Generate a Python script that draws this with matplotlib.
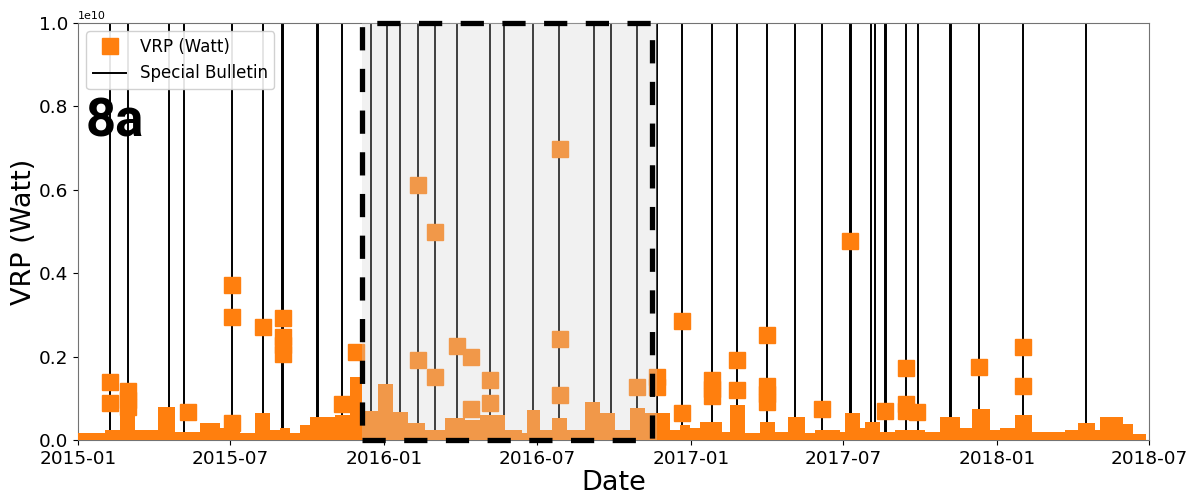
import matplotlib
matplotlib.use("Agg")
import matplotlib.pyplot as plt
import matplotlib.dates as mdates
from matplotlib.lines import Line2D
from matplotlib.patches import Rectangle
import pandas as pd

# ---------------- data (VRP in units of 1e10 W) ----------------
# background activity band: step start dates and level
band_dates = ["2015-01-01", "2015-02-02", "2015-02-20", "2015-03-10", "2015-04-06",
              "2015-04-27", "2015-05-26", "2015-06-19", "2015-06-25", "2015-07-13",
              "2015-07-31", "2015-08-18", "2015-08-30", "2015-09-11", "2015-09-23",
              "2015-10-05", "2015-11-03", "2015-11-21", "2015-12-06", "2015-12-25",
              "2016-01-12", "2016-01-29", "2016-02-19", "2016-03-14", "2016-04-06",
              "2016-04-24", "2016-05-24", "2016-06-13", "2016-06-19", "2016-07-05",
              "2016-07-19", "2016-08-06", "2016-08-27", "2016-09-14", "2016-10-02",
              "2016-10-20", "2016-11-07", "2016-11-19", "2016-12-07", "2016-12-19",
              "2016-12-31", "2017-01-12", "2017-02-07", "2017-02-16", "2017-03-06",
              "2017-03-24", "2017-04-11", "2017-04-27", "2017-05-17", "2017-05-29",
              "2017-06-28", "2017-07-04", "2017-07-21", "2017-07-27", "2017-08-14",
              "2017-09-01", "2017-10-07", "2017-10-25", "2017-11-18", "2017-12-02",
              "2017-12-23", "2018-01-04", "2018-01-22", "2018-02-12", "2018-03-23",
              "2018-04-07", "2018-04-28", "2018-05-04", "2018-05-31", "2018-06-12",
              "2018-06-27"]
band_vrp = [0.016, 0.024, 0.060, 0.024, 0.080,
            0.020, 0.040, 0.028, 0.054, 0.016,
            0.064, 0.024, 0.028, 0.016, 0.036,
            0.055, 0.060, 0.150, 0.070, 0.135,
            0.067, 0.040, 0.024, 0.052, 0.048,
            0.060, 0.024, 0.016, 0.071, 0.024,
            0.052, 0.024, 0.091, 0.064, 0.024,
            0.076, 0.064, 0.064, 0.024, 0.036,
            0.028, 0.044, 0.020, 0.083, 0.016,
            0.044, 0.020, 0.055, 0.016, 0.025,
            0.020, 0.065, 0.028, 0.044, 0.020,
            0.024, 0.020, 0.055, 0.028, 0.074,
            0.024, 0.028, 0.060, 0.020, 0.025,
            0.040, 0.024, 0.054, 0.038, 0.015,
            0.015]

# individual high VRP detections
peak_dates = ["2015-02-08", "2015-02-08", "2015-03-01", "2015-03-01", "2015-03-01",
              "2015-05-12", "2015-07-03", "2015-07-03", "2015-07-03", "2015-08-10",
              "2015-09-02", "2015-09-02", "2015-09-02", "2015-09-02", "2015-11-12",
              "2015-11-28", "2016-02-10", "2016-02-10", "2016-03-02", "2016-03-02",
              "2016-03-28", "2016-04-14", "2016-04-14", "2016-05-06", "2016-05-06",
              "2016-07-29", "2016-07-29", "2016-07-29", "2016-10-29", "2016-11-21",
              "2016-11-21", "2016-12-21", "2016-12-21", "2017-01-26", "2017-01-26",
              "2017-01-26", "2017-02-25", "2017-02-25", "2017-04-02", "2017-04-02",
              "2017-04-02", "2017-04-02", "2017-06-06", "2017-07-10", "2017-08-20",
              "2017-09-14", "2017-09-14", "2017-09-14", "2017-09-27", "2017-12-10",
              "2018-02-01", "2018-02-01"]
peak_vrp = [0.140, 0.088, 0.118, 0.097, 0.080,
            0.068, 0.372, 0.295, 0.040, 0.270,
            0.293, 0.247, 0.227, 0.207, 0.086,
            0.211, 0.612, 0.192, 0.499, 0.152,
            0.225, 0.199, 0.075, 0.144, 0.088,
            0.697, 0.242, 0.108, 0.128, 0.152,
            0.127, 0.286, 0.065, 0.143, 0.122,
            0.105, 0.192, 0.120, 0.252, 0.130,
            0.110, 0.090, 0.075, 0.478, 0.070,
            0.173, 0.086, 0.070, 0.068, 0.174,
            0.222, 0.129]

# special bulletin dates
bulletin_dates = ["2015-02-08", "2015-03-02", "2015-04-19", "2015-05-07", "2015-07-03",
                  "2015-08-10", "2015-09-01", "2015-09-02", "2015-10-13", "2015-10-14",
                  "2015-11-12", "2015-12-16", "2016-01-04", "2016-01-20", "2016-02-10",
                  "2016-03-02", "2016-03-28", "2016-05-06", "2016-05-23", "2016-06-26",
                  "2016-07-28", "2016-09-07", "2016-09-27", "2016-09-28",
                  "2016-10-29", "2016-11-21", "2016-12-21", "2017-01-26", "2017-02-25",
                  "2017-04-02", "2017-05-05", "2017-06-06", "2017-07-09", "2017-07-11",
                  "2017-08-04", "2017-08-08", "2017-08-20", "2017-08-21", "2017-09-14",
                  "2017-09-28", "2017-11-06", "2017-11-07", "2017-12-10", "2018-02-01",
                  "2018-04-17"]

# highlighted period
period = ["2015-12-06", "2016-11-15"]
period_shade = ["2015-12-06", "2016-11-21"]

# ---------------- plot ----------------
ORANGE = "#ff7f0e"
SCALE = 1e10

fig = plt.figure(figsize=(11.97, 4.98), dpi=100)
ax = fig.add_axes([0.0652, 0.1165, 0.8947, 0.8373])

bd = pd.to_datetime(band_dates)
bv = [v * SCALE for v in band_vrp]
pdts = pd.to_datetime(peak_dates)
pv = [v * SCALE for v in peak_vrp]

for d in pd.to_datetime(bulletin_dates):
    ax.axvline(d, color="black", lw=1.4, zorder=2)

ax.fill_between(bd, 0, bv, step="post", color=ORANGE, lw=0, zorder=3)
ax.plot(pdts, pv, "s", color=ORANGE, ms=11, ls="none", zorder=3)

p0, p1 = pd.to_datetime(period)
s0, s1 = pd.to_datetime(period_shade)
ax.axvspan(s0, s1, color="lightgray", alpha=0.3, lw=0, zorder=4)
x0 = mdates.date2num(p0)
x1 = mdates.date2num(p1)
rect = Rectangle((x0, 0), x1 - x0, 1.0 * SCALE, fill=False, ec="black", lw=3.8,
                 ls=(0, (4.4, 3.5)), zorder=5, clip_on=False)
ax.add_patch(rect)

ax.set_xlim(pd.Timestamp("2015-01-01"), pd.Timestamp("2018-07-01"))
ax.set_ylim(0, 1.0 * SCALE)
ax.xaxis.set_major_locator(mdates.MonthLocator(bymonth=[1, 7]))
ax.xaxis.set_major_formatter(mdates.DateFormatter("%Y-%m"))
ax.set_yticks([0, 0.2e10, 0.4e10, 0.6e10, 0.8e10, 1.0e10])
ax.tick_params(labelsize=13.3)
ax.yaxis.get_offset_text().set_fontsize(8)
for sp in ax.spines.values():
    sp.set_color("0.45")
ax.set_xlabel("Date", fontsize=19.5, labelpad=2)
ax.set_ylabel("VRP (Watt)", fontsize=19.5, labelpad=1.5)

handles = [Line2D([], [], marker="s", color=ORANGE, ls="none", ms=11, label="VRP (Watt)"),
           Line2D([], [], color="black", lw=1.4, label="Special Bulletin")]
leg = ax.legend(handles=handles, loc="upper left", fontsize=12, framealpha=0.9)
leg.set_zorder(7)

ax.text(0.0075, 0.727, "8a", transform=ax.transAxes, fontsize=38, fontweight="bold",
        family="Roboto", va="baseline", ha="left", zorder=8)

fig.savefig("out.png", dpi=100)
